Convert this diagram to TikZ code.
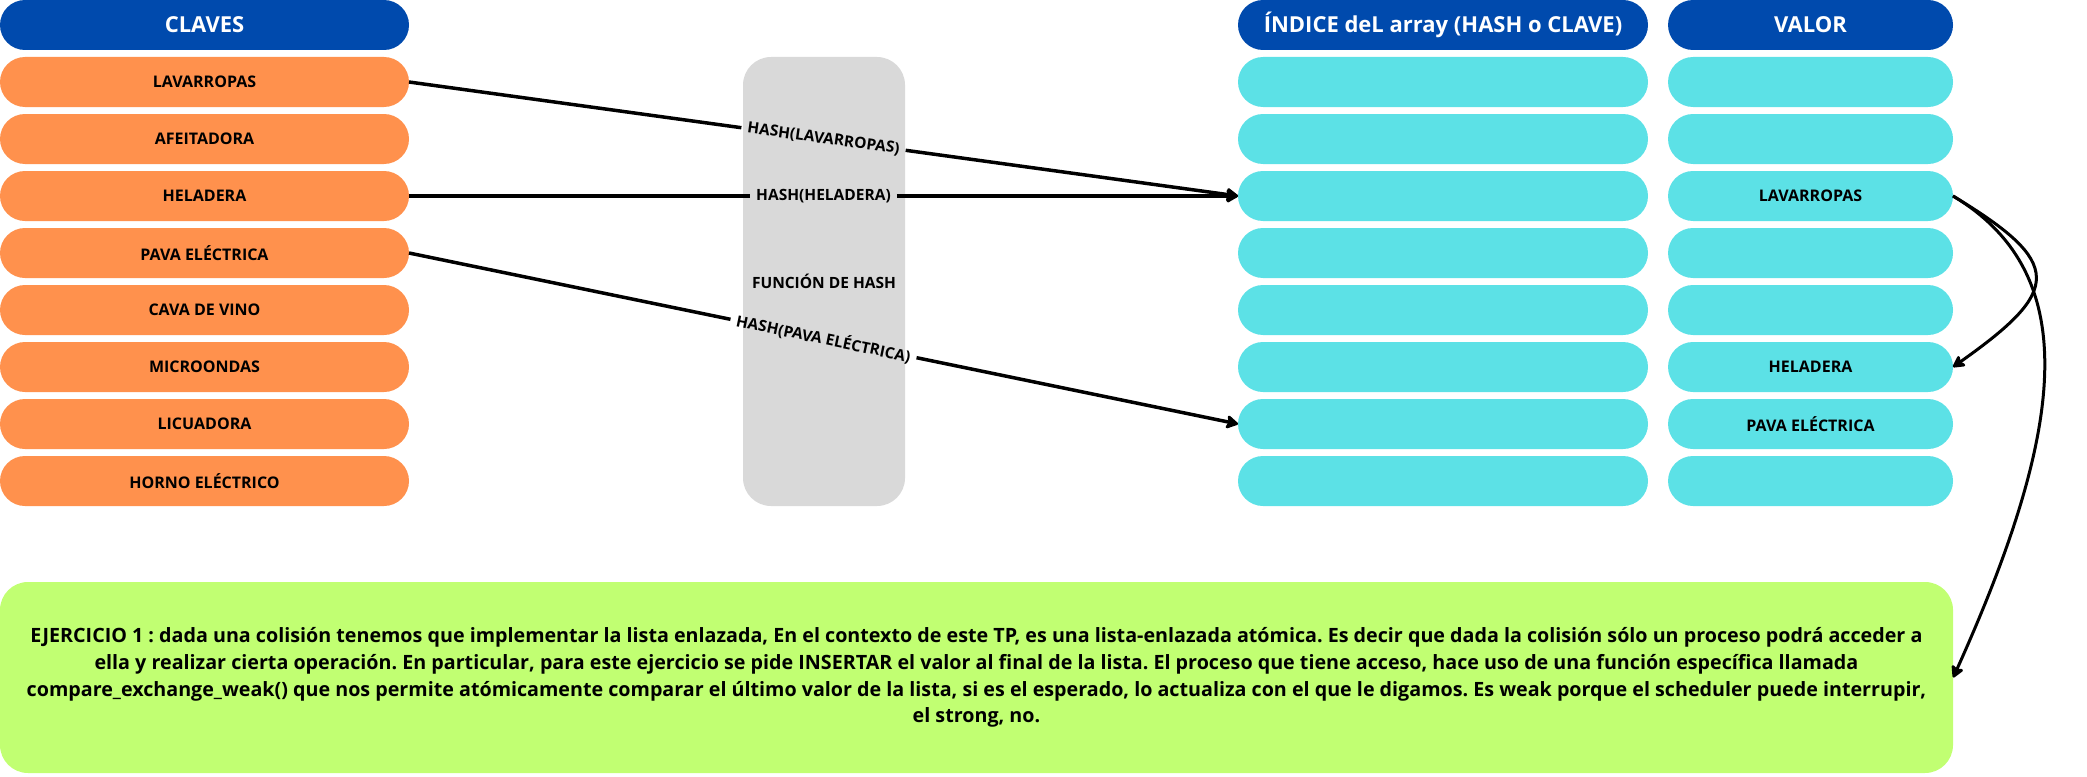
\documentclass[tikz,border=0pt]{standalone}
\usepackage{fontspec}
\setmainfont{Open Sans}
\usetikzlibrary{arrows.meta}
\definecolor{hblue}{HTML}{004AAD}
\definecolor{korange}{HTML}{FF914D}
\definecolor{icyan}{HTML}{5CE1E6}
\definecolor{fgray}{HTML}{D9D9D9}
\definecolor{pgreen}{HTML}{C1FF72}
\frenchspacing
\begin{document}
\begin{tikzpicture}[x=1pt,y=-1pt,
  pill/.style={rectangle, rounded corners=25pt, minimum height=50pt, inner sep=0pt, outer sep=0pt, font=\bfseries\fontsize{16}{19}\selectfont},
  hdr/.style={pill, fill=hblue, text=white, font=\bfseries\fontsize{22}{26}\selectfont},
  keybox/.style={pill, fill=korange, minimum width=409pt},
  idxbox/.style={pill, fill=icyan, minimum width=410pt},
  valbox/.style={pill, fill=icyan, minimum width=285pt},
  lbl/.style={font=\bfseries\fontsize{15.5}{18}\selectfont, inner xsep=6pt, inner ysep=4pt},
  seg/.style={line width=3.5pt},
  conn/.style={line width=3.5pt, -{Stealth[length=14pt,width=16pt,inset=3pt,round]}},
  curv/.style={line width=3pt, -{Stealth[length=14pt,width=15pt,inset=3pt,round]}}
]
\useasboundingbox (0,0) rectangle (2087,776);

% headers
\node[hdr, minimum width=409pt] (hk) at (204.5,25) {CLAVES};
\node[hdr, minimum width=410pt] (hi) at (1443,25) {ÍNDICE deL array (HASH o CLAVE)};
\node[hdr, minimum width=285pt] (hv) at (1810.5,25) {VALOR};

% keys
\foreach \t [count=\i] in {LAVARROPAS, AFEITADORA, HELADERA, PAVA ELÉCTRICA, CAVA DE VINO, MICROONDAS, LICUADORA, HORNO ELÉCTRICO}
  \node[keybox] (k\i) at (204.5,{57*\i+25}) {\t};

% index cells
\foreach \i in {1,...,8}
  \node[idxbox] (i\i) at (1443,{57*\i+25}) {};

% value cells
\node[valbox] (v1) at (1810.5,82) {};
\node[valbox] (v2) at (1810.5,139) {};
\node[valbox] (v3) at (1810.5,196) {LAVARROPAS};
\node[valbox] (v4) at (1810.5,253) {};
\node[valbox] (v5) at (1810.5,310) {};
\node[valbox] (v6) at (1810.5,367) {HELADERA};
\node[valbox] (v7) at (1810.5,424) {PAVA ELÉCTRICA};
\node[valbox] (v8) at (1810.5,481) {};

% hash function box
\node[fill=fgray, rounded corners=28pt, minimum width=162pt, minimum height=449pt, inner sep=0pt,
      font=\bfseries\fontsize{15.5}{18}\selectfont] (hf) at (824,281.5) {FUNCIÓN DE HASH};

% exercise box
\node[fill=pgreen, rounded corners=28pt, minimum width=1953pt, minimum height=191pt, inner sep=0pt,
      align=center, font=\bfseries\fontsize{19.7}{26.7}\selectfont] (ex) at (976.5,677.5)
  {EJERCICIO 1 : dada una colisión tenemos que implementar la lista enlazada, En el contexto de este TP, es una lista-enlazada atómica. Es decir que dada la colisión sólo un proceso podrá acceder a\\
   ella y realizar cierta operación. En particular, para este ejercicio se pide INSERTAR el valor al final de la lista. El proceso que tiene acceso, hace uso de una función específica llamada\\
   compare\_exchange\_weak() que nos permite atómicamente comparar el último valor de la lista, si es el esperado, lo actualiza con el que le digamos. Es weak porque el scheduler puede interrupir,\\
   el strong, no.};

% hash arrows
\path (k1.east) -- node[lbl, sloped] (l1) {HASH(LAVARROPAS)} (i3.west);
\draw[seg] (k1.east) -- (l1);
\draw[conn] (l1) -- (i3.west);

\path (k3.east) -- node[lbl] (l3) {HASH(HELADERA)} (i3.west);
\draw[seg] (k3.east) -- (l3);
\draw[conn] (l3) -- (i3.west);

\path (k4.east) -- node[lbl, sloped] (l4) {HASH(PAVA ELÉCTRICA)} (i7.west);
\draw[seg] (k4.east) -- (l4);
\draw[conn] (l4) -- (i7.west);

% list links
\draw[curv] (v3.east) .. controls (2064,263) and (2062,290) .. (v6.east);
\draw[curv] (v3.east) .. controls (2081.6,273) and (2067.8,423.2) .. (ex.east);
\end{tikzpicture}
\end{document}
